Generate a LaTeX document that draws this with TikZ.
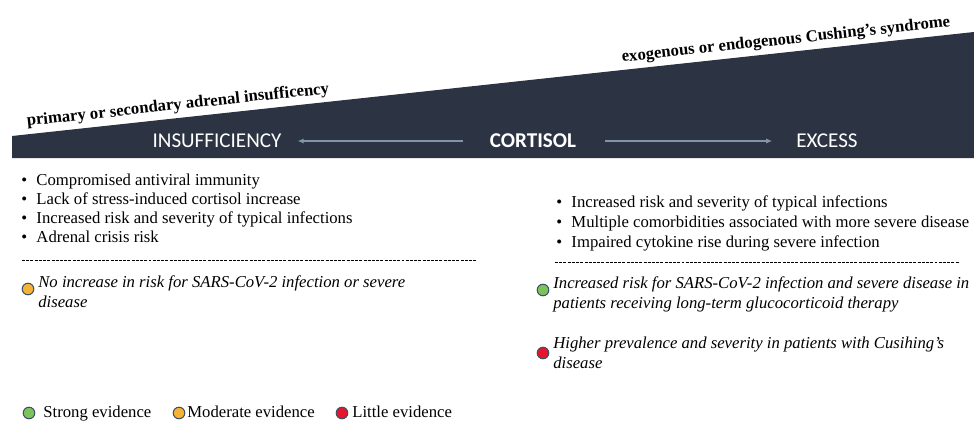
\documentclass[tikz,border=0pt]{standalone}
\usepackage{fontspec}
\setmainfont{Liberation Serif}
\newfontfamily\headfont{Carlito}
\usetikzlibrary{arrows.meta}

\definecolor{wedgeblue}{HTML}{2C3444}
\definecolor{arrowgray}{HTML}{8294A9}
\definecolor{stronggreen}{HTML}{7CC35B}
\definecolor{modorange}{HTML}{F5B335}
\definecolor{littlered}{HTML}{E5152B}
\definecolor{dotrim}{HTML}{3E5166}

\newcommand\itm{\makebox[8.6pt][l]{\textbullet}}

\begin{document}
\begin{tikzpicture}[x=0.02cm,y=-0.02cm]
\useasboundingbox (0,0) rectangle (974,420);
\tikzset{head/.style = {text=white, inner sep=0, font=\headfont\fontsize{12}{14}\selectfont}}
\tikzset{slant/.style = {rotate=6.17, inner sep=0, anchor=base west, font=\bfseries\fontsize{9.5}{11}\selectfont}}
\tikzset{line/.style = {inner sep=0, anchor=base west, font=\fontsize{9.5}{11}\selectfont}}
\tikzset{note/.style = {line, font=\itshape\fontsize{9.5}{11}\selectfont}}
\tikzset{dot/.style = {circle, draw=dotrim, line width=0.6pt, inner sep=0, minimum size=6.6pt}}
\tikzset{pointer/.style = {-{Latex[length=3.5pt,width=3pt]}, arrowgray, line width=0.7pt}}
\tikzset{divider/.style = {dash pattern=on 1.7pt off 0.7pt, line width=0.55pt}}
% wedge
\fill[wedgeblue] (12,158) -- (12,136) -- (974,32) -- (974,158) -- cycle;
\node[slant] (lowlab) at (27,126) {primary or secondary adrenal insufficency};
\node[slant] (highlab) at (622,62) {exogenous or endogenous Cushing's syndrome};
% headings
\node[head] (insuf) at (217,141) {INSUFFICIENCY};
\node[head, font=\headfont\bfseries\fontsize{12}{14}\selectfont] (cort) at (533,141) {CORTISOL};
\node[head] (exc) at (827,141) {EXCESS};
\draw[pointer, shorten <=15pt, shorten >=9pt] (cort) -- (insuf);
\draw[pointer, shorten <=16pt, shorten >=13.5pt] (cort) -- (exc);
% insufficiency side
\foreach \t [count=\i] in {Compromised antiviral immunity, Lack of stress-induced cortisol increase,
  Increased risk and severity of typical infections, Adrenal crisis risk}
  \node[line] (ins\i) at (21,166+19*\i) {\itm\t};
\coordinate (insdl) at (22,260);
\coordinate (insdr) at (476,260);
\draw[divider] (insdl) -- (insdr);
\node[dot, fill=modorange] (insdot) at (28,289) {};
\node[note] (insn1) at (38,287) {No increase in risk for SARS-CoV-2 infection or severe};
\node[note] (insn2) at (38,307) {disease};
% excess side
\foreach \t [count=\i] in {Increased risk and severity of typical infections,
  Multiple comorbidities associated with more severe disease, Impaired cytokine rise during severe infection}
  \node[line] (exs\i) at (556,187+20*\i) {\itm\t};
\coordinate (exsdl) at (555,262);
\coordinate (exsdr) at (959,262);
\draw[divider] (exsdl) -- (exsdr);
\node[dot, fill=stronggreen] (exsdot1) at (543,290) {};
\node[note] (exsn1) at (553,288) {Increased risk for SARS-CoV-2 infection and severe disease in};
\node[note] (exsn2) at (553,308) {patients receiving long-term glucocorticoid therapy};
\node[dot, fill=littlered] (exsdot2) at (543,353) {};
\node[note] (exsn3) at (553,348) {Higher prevalence and severity in patients with Cusihing's};
\node[note] (exsn4) at (553,368) {disease};
% legend
\node[dot, fill=stronggreen] (keyg) at (29,413) {};
\node[line] (keygt) at (43,417) {Strong evidence};
\node[dot, fill=modorange] (keyo) at (179,413) {};
\node[line] (keyot) at (187,417) {Moderate evidence};
\node[dot, fill=littlered] (keyr) at (342,413) {};
\node[line] (keyrt) at (352,417) {Little evidence};
\end{tikzpicture}
\end{document}
